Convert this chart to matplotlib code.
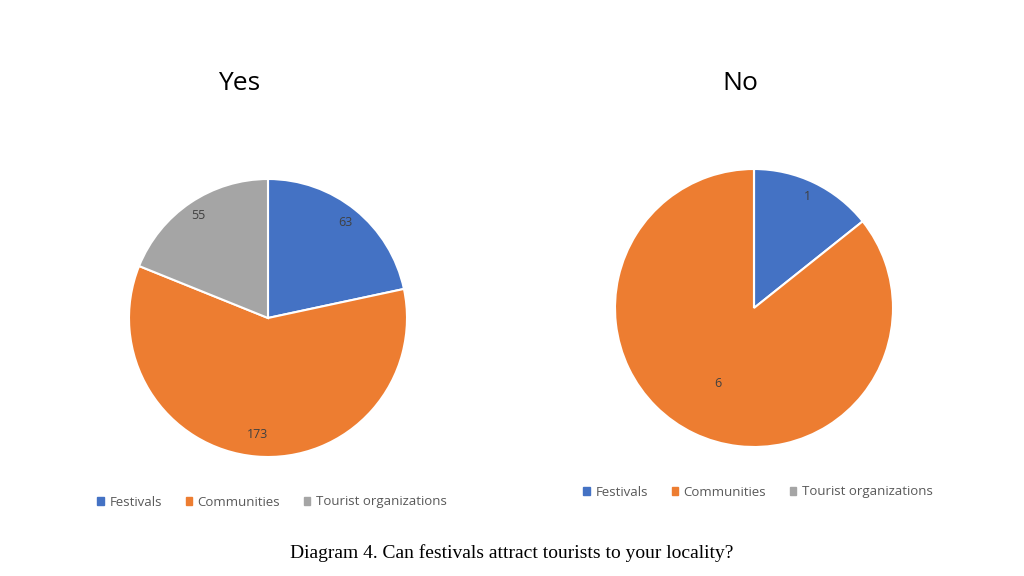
import matplotlib.pyplot as plt
from matplotlib.patches import Patch

categories = ["Festivals", "Communities", "Tourist organizations"]
yes_values = [63, 173, 55]
no_values = [1, 6, 0]
colors = ["#4472C4", "#ED7D31", "#A5A5A5"]

W, H = 1024, 576
fig = plt.figure(figsize=(W / 100, H / 100), dpi=100)
plt.rcParams["font.family"] = ["Open Sans", "DejaVu Sans"]


def draw_pie(cx, cy, r, values, title, title_x, label_dist, legend_x, legend_y):
    ax = fig.add_axes([(cx - r) / W, 1 - (cy + r) / H, 2 * r / W, 2 * r / H])
    wedges, texts, autotexts = ax.pie(
        values,
        colors=colors,
        startangle=90,
        counterclock=False,
        wedgeprops=dict(edgecolor="white", linewidth=1.5),
        autopct=lambda p: "",
        pctdistance=1.0,
    )
    # value labels, placed per slice
    for at, v, d in zip(autotexts, values, label_dist):
        x, y = at.get_position()
        at.set_position((x * d, y * d))
        at.set_text(str(v) if v else "")
        at.set_color("#404040")
        at.set_fontsize(9)
    ax.set_xlim(-1, 1)
    ax.set_ylim(-1, 1)
    ax.set_aspect("equal")
    fig.text(title_x / W, 1 - 84 / H, title, ha="center", va="center", fontsize=19)
    handles = [Patch(color=c, label=l) for c, l in zip(colors, categories)]
    fig.legend(
        handles=handles,
        loc="center",
        bbox_to_anchor=(legend_x / W, 1 - legend_y / H),
        ncol=3,
        frameon=False,
        fontsize=9.5,
        handlelength=0.5,
        handleheight=0.5,
        handletextpad=0.4,
        columnspacing=1.8,
        labelcolor="#595959",
    )
    return ax


draw_pie(268, 318, 139, yes_values, "Yes", 239, [0.88, 0.84, 0.89], 272, 502)
draw_pie(754, 308, 139, no_values, "No", 740, [0.89, 0.6, 0.8], 758, 492)

fig.text(0.5, 1 - 553 / H, "Diagram 4. Can festivals attract tourists to your locality?",
         ha="center", va="center", fontsize=14, family=["Liberation Serif", "DejaVu Serif"])

fig.savefig("out.png", dpi=100, facecolor="white")
